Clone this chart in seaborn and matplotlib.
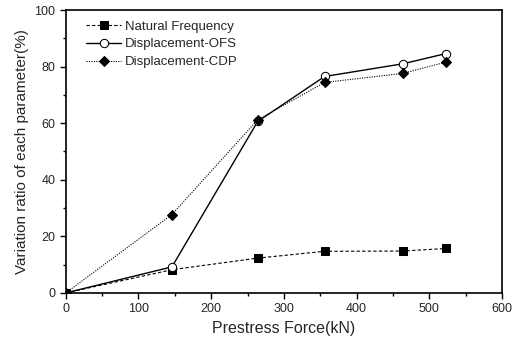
import numpy as np
import pandas as pd
import seaborn as sns
import matplotlib
matplotlib.use('Agg')
import matplotlib.pyplot as plt
from matplotlib.ticker import MultipleLocator

sns.set_style('ticks')
plt.rcParams['font.family'] = ['Liberation Sans', 'DejaVu Sans']

# 数据
force = [0, 146, 264, 356, 464, 523]
natural_freq = [0, 8.2, 12.3, 14.7, 14.8, 15.7]
disp_ofs = [0, 9.2, 60.6, 76.5, 81.0, 84.6]
disp_cdp = [0, 27.7, 61.2, 74.4, 77.6, 81.6]

fig = plt.figure(figsize=(5.18, 3.45), dpi=100)
ax = fig.add_axes([0.127, 0.151, 0.842, 0.820])

sns.lineplot(x=force, y=natural_freq, ax=ax, color='black', linestyle=(0, (3, 2)),
             linewidth=0.8, marker='s', markersize=6, markerfacecolor='black',
             markeredgecolor='black', label='Natural Frequency')
sns.lineplot(x=force, y=disp_ofs, ax=ax, color='black', linestyle='-',
             linewidth=1.0, marker='o', markersize=6, markerfacecolor='white',
             markeredgecolor='black', label='Displacement-OFS')
sns.lineplot(x=force, y=disp_cdp, ax=ax, color='black', linestyle=(0, (1, 1.2)),
             linewidth=0.8, marker='D', markersize=5.2, markerfacecolor='black',
             markeredgecolor='black', label='Displacement-CDP')

ax.set_xlim(0, 600)
ax.set_ylim(0, 100)
ax.xaxis.set_major_locator(MultipleLocator(100))
ax.xaxis.set_minor_locator(MultipleLocator(50))
ax.yaxis.set_major_locator(MultipleLocator(20))
ax.yaxis.set_minor_locator(MultipleLocator(10))
ax.tick_params(which='major', direction='out', length=4, width=1, labelsize=9, color='black')
ax.tick_params(which='minor', direction='out', length=2.5, width=1, color='black')
for s in ax.spines.values():
    s.set_color('black')
    s.set_linewidth(1.2)

ax.set_xlabel('Prestress Force(kN)', fontsize=11.5)
ax.set_ylabel('Variation ratio of each parameter(%)', fontsize=11)

leg = ax.legend(loc='upper left', bbox_to_anchor=(0.02, 1.005), frameon=False,
                fontsize=9.5, handlelength=2.6, handletextpad=0.3,
                labelspacing=0.42, borderaxespad=0.5)

plt.savefig('out.png', dpi=100)
plt.close()
